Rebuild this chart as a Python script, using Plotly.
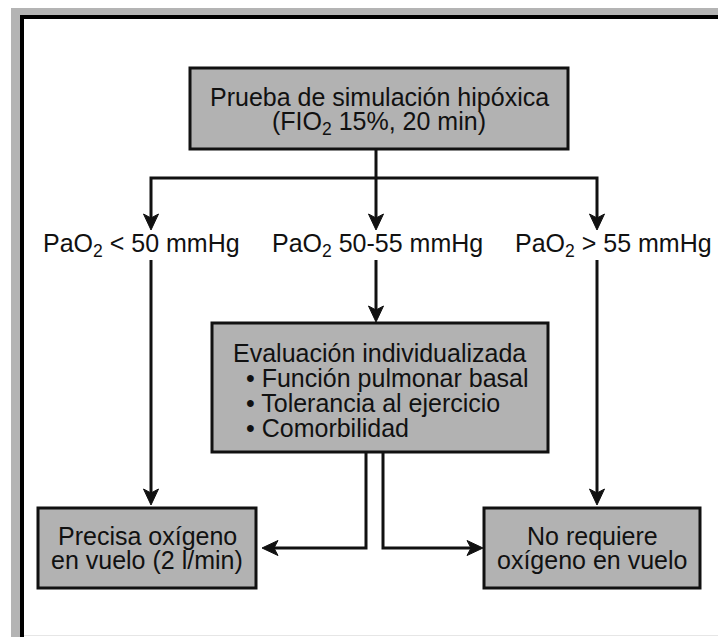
import plotly.graph_objects as go

# ---------------- content (texts) ----------------
top_lines = ["Prueba de simulación hipóxica", "(FIO<sub>2</sub> 15%, 20 min)"]
branch_labels = ["PaO<sub>2</sub> &lt; 50 mmHg", "PaO<sub>2</sub> 50-55 mmHg", "PaO<sub>2</sub> &gt; 55 mmHg"]
eval_title = ["Evaluación individualizada"]
eval_items = ["• Función pulmonar basal", "• Tolerancia al ejercicio", "• Comorbilidad"]
left_outcome = ["Precisa oxígeno", "en vuelo (2 l/min)"]
right_outcome = ["No requiere", "oxígeno en vuelo"]

# ---------------- layout geometry (pixels) ----------------
W, H = 718, 637
BOX_FILL = "#b2b2b2"
INK = "#111111"
FONT = "Liberation Sans, Arial, sans-serif"
FS = 25
LW = 3

boxes = {
    "top": (190, 68, 568, 149),
    "mid": (212, 323, 548, 452),
    "bl": (38, 508, 256, 588),
    "br": (484, 508, 700, 588),
}
cx_left, cx_mid, cx_right = 151, 376, 597
y_bar = 178
y_tip_lbl = 230
y_lbl = 245
y_lbl_bottom = 260
y_conn = 548
x_exit_l, x_exit_r = 366, 383

fig = go.Figure()
shapes = []
annotations = []

# outer frame
shapes.append(dict(type="rect", xref="x", yref="y", x0=11, y0=8, x1=760, y1=700,
                   fillcolor="#b4b4b4", line=dict(width=0), layer="below"))
shapes.append(dict(type="rect", xref="x", yref="y", x0=22, y0=17, x1=760, y1=700,
                   fillcolor="white", line=dict(color="#000000", width=4), layer="below"))
shapes.append(dict(type="line", xref="x", yref="y", x0=24, y0=635.5, x1=718, y1=635.5,
                   line=dict(color="#e6e6e6", width=1)))

# boxes
for k, (x0, y0, x1, y1) in boxes.items():
    shapes.append(dict(type="rect", xref="x", yref="y", x0=x0, y0=y0, x1=x1, y1=y1,
                       fillcolor=BOX_FILL, line=dict(color=INK, width=LW)))


def seg(pts):
    d = "M " + " L ".join(f"{x},{y}" for x, y in pts)
    shapes.append(dict(type="path", xref="x", yref="y", path=d,
                       line=dict(color=INK, width=LW), fillcolor="rgba(0,0,0,0)"))


def head(x, y, direction):
    L, Wd, N = 16, 7.5, 12
    if direction == "down":
        p = [(x, y), (x - Wd, y - L), (x, y - N), (x + Wd, y - L)]
    elif direction == "left":
        p = [(x, y), (x + L, y - Wd), (x + N, y), (x + L, y + Wd)]
    else:  # right
        p = [(x, y), (x - L, y - Wd), (x - N, y), (x - L, y + Wd)]
    d = "M " + " L ".join(f"{a},{b}" for a, b in p) + " Z"
    shapes.append(dict(type="path", xref="x", yref="y", path=d,
                       line=dict(color=INK, width=1), fillcolor=INK))


# top connectors
seg([(cx_mid, boxes["top"][3]), (cx_mid, y_tip_lbl - 10)])
seg([(cx_left, y_tip_lbl - 10), (cx_left, y_bar), (cx_right, y_bar), (cx_right, y_tip_lbl - 10)])
for cx in (cx_left, cx_mid, cx_right):
    head(cx, y_tip_lbl, "down")

# label stems
seg([(cx_left, y_lbl_bottom), (cx_left, boxes["bl"][1] - 12)])
head(cx_left, boxes["bl"][1] - 3, "down")
seg([(cx_mid, y_lbl_bottom), (cx_mid, boxes["mid"][1] - 10)])
head(cx_mid, boxes["mid"][1] - 1, "down")
seg([(cx_right, y_lbl_bottom), (cx_right, boxes["br"][1] - 12)])
head(cx_right, boxes["br"][1] - 3, "down")

# evaluation exits
seg([(x_exit_l, boxes["mid"][3]), (x_exit_l, y_conn), (boxes["bl"][2] + 16, y_conn)])
head(boxes["bl"][2] + 6, y_conn, "left")
seg([(x_exit_r, boxes["mid"][3]), (x_exit_r, y_conn), (boxes["br"][0] - 12, y_conn)])
head(boxes["br"][0] - 1, y_conn, "right")


def txt(x, y, s, anchor="center"):
    annotations.append(dict(x=x, y=y, xref="x", yref="y", text=s, showarrow=False,
                            xanchor=anchor, yanchor="middle",
                            font=dict(family=FONT, size=FS, color=INK)))


# texts
bx = boxes["top"]
for i, s in enumerate(top_lines):
    txt((bx[0] + bx[2]) / 2, 97 + i * 26, s)

for cx, s in zip((141, 377, 613), branch_labels):
    txt(cx, y_lbl, s)

bx = boxes["mid"]
txt((bx[0] + bx[2]) / 2 - 1, 353, eval_title[0])
for i, s in enumerate(eval_items):
    txt(244, 378 + i * 25, s, anchor="left")

bx = boxes["bl"]
for i, s in enumerate(left_outcome):
    txt((bx[0] + bx[2]) / 2, 536 + i * 24, s)
bx = boxes["br"]
for i, s in enumerate(right_outcome):
    txt((bx[0] + bx[2]) / 2, 536 + i * 24, s)

fig.update_layout(
    width=W, height=H,
    margin=dict(l=0, r=0, t=0, b=0),
    paper_bgcolor="white", plot_bgcolor="white",
    xaxis=dict(range=[0, W], visible=False, fixedrange=True),
    yaxis=dict(range=[H, 0], visible=False, fixedrange=True),
    shapes=shapes, annotations=annotations,
    showlegend=False,
)
fig.write_html("out.html", config={"displayModeBar": False},
               post_script="document.body.style.margin='0';document.body.style.overflow='hidden';")
